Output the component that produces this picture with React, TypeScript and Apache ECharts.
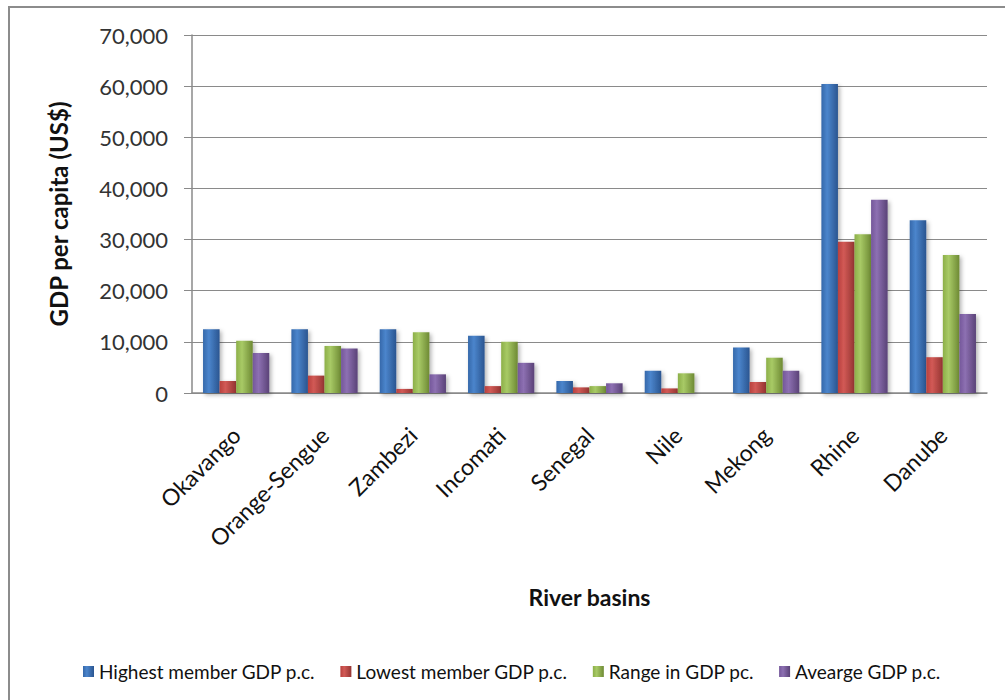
import React, { useEffect, useRef } from "react";
import * as echarts from "echarts";

const categories = ["Okavango", "Orange-Sengue", "Zambezi", "Incomati", "Senegal", "Nile", "Mekong", "Rhine", "Danube"];
const highest = [12450, 12450, 12450, 11200, 2350, 4350, 8900, 60400, 33800];
const lowest = [2350, 3400, 800, 1350, 1100, 900, 2150, 29550, 7000];
const range = [10200, 9200, 11900, 10000, 1350, 3850, 6900, 31050, 27000];
const average = [7800, 8700, 3650, 5900, 1900, 0, 4350, 37770, 15450];
const seriesNames = ["Highest member GDP p.c.", "Lowest member GDP p.c.", "Range in GDP pc.", "Avearge GDP p.c."];
const yTicks = [0, 10000, 20000, 30000, 40000, 50000, 60000, 70000];

const FONT = "Lato, 'Open Sans', sans-serif";

function grad(a: string, b: string, c: string) {
  return new echarts.graphic.LinearGradient(0, 0, 1, 0, [
    { offset: 0, color: a },
    { offset: 0.35, color: b },
    { offset: 1, color: c },
  ]);
}

export default function App() {
  const ref = useRef<HTMLDivElement>(null);
  useEffect(() => {
    document.body.style.margin = "0";
    document.body.style.overflow = "hidden";
    if (!ref.current) return;
    const chart = echarts.init(ref.current, undefined, { renderer: "svg" });
    const colors = [
      grad("#3568aa", "#4b85cc", "#2a5590"),
      grad("#b8403d", "#d25a56", "#943432"),
      grad("#8caf48", "#a8ca66", "#6e8a34"),
      grad("#74579a", "#8d70b2", "#5a4277"),
    ];
    const datas = [highest, lowest, range, average];
    chart.setOption({
      animation: false,
      textStyle: { fontFamily: FONT },
      grid: { left: 192, top: 35, right: 18, bottom: 307, containLabel: false },
      graphic: [
        { type: "line", shape: { x1: 9, y1: 7, x2: 1005, y2: 7 }, style: { stroke: "#8c8c8c", lineWidth: 2 } },
        { type: "line", shape: { x1: 9, y1: 6, x2: 9, y2: 700 }, style: { stroke: "#8c8c8c", lineWidth: 2 } },
      ],
      legend: {
        top: 657,
        left: 78,
        itemWidth: 11,
        itemHeight: 11,
        itemGap: 25,
        icon: "rect",
        textStyle: { fontSize: 19, color: "#111", fontFamily: FONT },
        data: seriesNames,
      },
      xAxis: {
        type: "category",
        data: categories,
        name: "River basins",
        nameLocation: "middle",
        nameGap: 192,
        nameTextStyle: { fontSize: 23, fontWeight: "bold", color: "#111", fontFamily: FONT },
        axisLine: { show: true, lineStyle: { color: "#8a8a8a", width: 1.5 } },
        axisTick: { show: false },
        axisLabel: { rotate: 45, fontSize: 23, color: "#111", margin: 38, interval: 0, fontFamily: FONT },
      },
      yAxis: {
        type: "value",
        min: yTicks[0],
        max: yTicks[yTicks.length - 1],
        interval: 10000,
        name: "GDP per capita (US$)",
        nameLocation: "middle",
        nameGap: 122,
        nameTextStyle: { fontSize: 24, fontWeight: "bold", color: "#111", fontFamily: FONT },
        axisLine: { show: true, lineStyle: { color: "#8a8a8a", width: 1.5 } },
        axisTick: { show: true, length: 8, lineStyle: { color: "#8a8a8a" } },
        splitLine: { show: true, lineStyle: { color: "#8a8a8a", width: 1.2 } },
        axisLabel: {
          fontSize: 22,
          color: "#333",
          margin: 24,
          fontFamily: FONT,
          formatter: (v: number) => v.toLocaleString("en-US"),
        },
      },
      series: seriesNames.map((n, i) => ({
        name: n,
        type: "bar",
        data: datas[i],
        barGap: "0%",
        barCategoryGap: "25%",
        itemStyle: {
          color: colors[i],
          shadowColor: "rgba(0,0,0,0.3)",
          shadowBlur: 4,
          shadowOffsetX: 2,
          shadowOffsetY: 2,
        },
      })),
    });
    return () => chart.dispose();
  }, []);
  return <div ref={ref} style={{ width: 1005, height: 700 }} />;
}
